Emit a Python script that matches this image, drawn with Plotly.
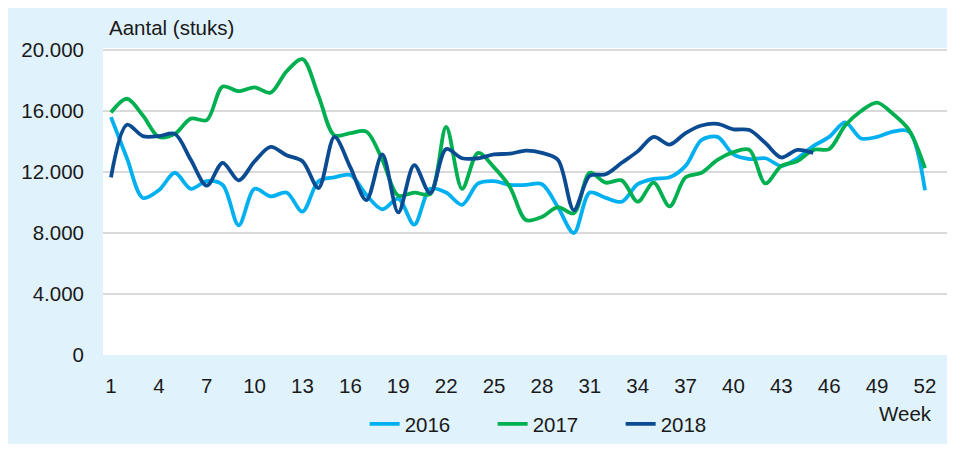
import plotly.graph_objects as go

# weeknummers
weeks = list(range(1, 53))

y2016 = [15600, 12900, 10300, 10800, 11950, 10900, 11400, 11150, 8500, 10900,
         10400, 10650, 9400, 11400, 11650, 11800, 10500, 9550, 10250, 8550,
         10900, 10650, 9850, 11250, 11400, 11150, 11150, 11200, 9700, 8000,
         10650, 10300, 10050, 11200, 11550, 11650, 12400, 14100, 14300, 13150,
         12850, 12900, 12400, 12900, 13700, 14300, 15250, 14200, 14300, 14650,
         14650, 10800]
y2017 = [15900, 16800, 15700, 14300, 14500, 15500, 15400, 17600, 17300, 17550,
         17200, 18600, 19400, 17000, 14400, 14550, 14650, 12800, 10450, 10650,
         10550, 14950, 10900, 13250, 12300, 11000, 8850, 9050, 9700, 9300,
         11950, 11300, 11450, 10050, 11300, 9750, 11650, 11950, 12800, 13300,
         13450, 11250, 12400, 12700, 13450, 13500, 15050, 16000, 16550, 15800,
         14750, 12250]
y2018 = [11650, 15100, 14350, 14350, 14500, 12800, 11100, 12600, 11450, 12700,
         13650, 13100, 12700, 10950, 14300, 12300, 10150, 13150, 9350, 12450,
         10600, 13500, 12900, 12900, 13150, 13200, 13400, 13250, 12800, 9500,
         11750, 11850, 12600, 13350, 14300, 13800, 14550, 15050, 15150, 14800,
         14750, 13900, 12950, 13450, 13250]

series = ['2016', '2017', '2018']
kleuren = ['#00B0F0', '#00B050', '#0B4B92']

y_ticks = [0, 4000, 8000, 12000, 16000, 20000]
y_labels = ['0', '4.000', '8.000', '12.000', '16.000', '20.000']
x_ticks = list(range(1, 53, 3))

fig = go.Figure()

for naam, waarden, kleur in zip(series, [y2016, y2017, y2018], kleuren):
    fig.add_trace(go.Scatter(
        x=weeks[:len(waarden)],
        y=waarden,
        name=naam,
        mode='lines',
        line=dict(color=kleur, width=3.8, shape='spline', smoothing=0.9),
    ))

# 939 x 436 + standaard body-marge van 8px = precies het venster
fig.update_layout(
    width=939,
    height=436,
    margin=dict(l=95, r=0, t=40, b=83),
    paper_bgcolor='#E0F2FC',
    plot_bgcolor='white',
    font=dict(family='Liberation Sans, Arial, sans-serif', size=20.5, color='#1a1a1a'),
    showlegend=True,
    legend=dict(
        orientation='h', x=0.31, xanchor='left', y=-0.225, yanchor='middle',
        bgcolor='rgba(0,0,0,0)', font=dict(size=20.5),
        entrywidth=83, entrywidthmode='pixels',
    ),
    xaxis=dict(
        range=[0.5, 53.38],
        tickvals=x_ticks,
        showgrid=False,
        zeroline=False,
        showline=False,
        ticks='',
        ticklabelstandoff=16,
    ),
    yaxis=dict(
        range=[0, 20129],
        tickvals=y_ticks,
        ticktext=y_labels,
        showgrid=True,
        gridcolor='#D9D9D9',
        gridwidth=2,
        zeroline=False,
        showline=False,
        ticks='',
        ticklabelstandoff=18,
    ),
    annotations=[
        dict(text='Aantal (stuks)', xref='paper', yref='paper', x=0.0047, y=1.067,
             xanchor='left', yanchor='middle', showarrow=False),
        dict(text='Week', xref='paper', yref='paper', x=0.9846, y=-0.19,
             xanchor='right', yanchor='middle', showarrow=False),
    ],
)

fig.write_html('out.html', config={'displayModeBar': False})
